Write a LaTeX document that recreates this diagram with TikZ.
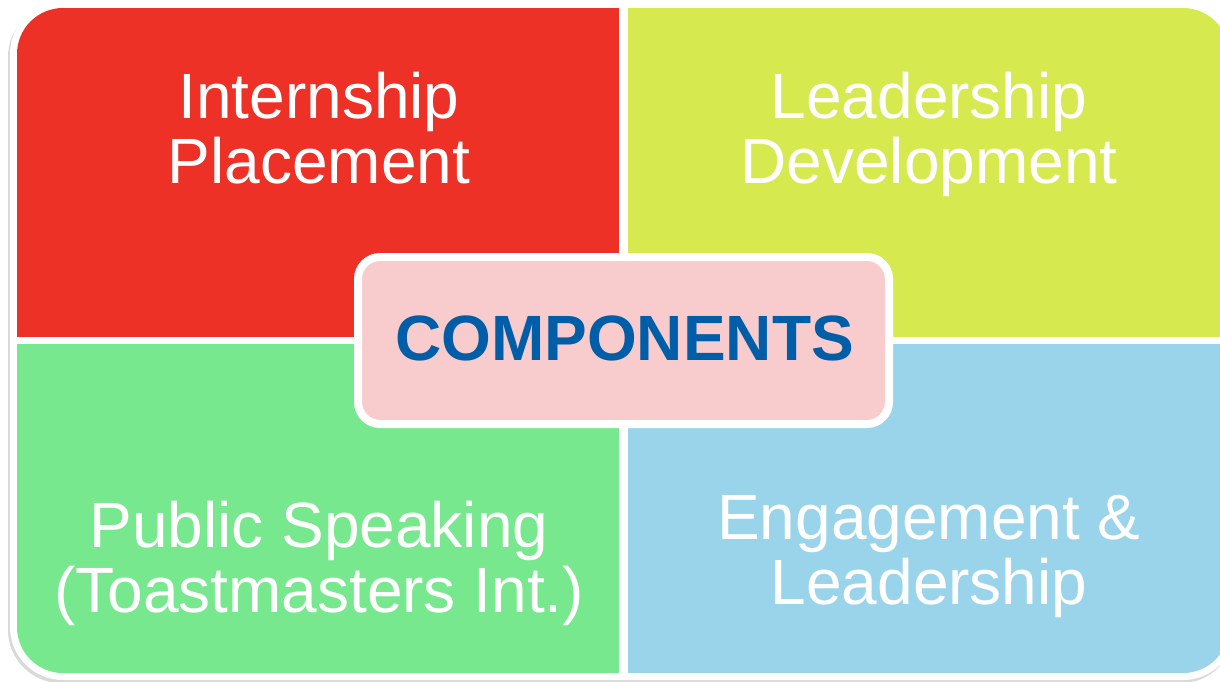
\documentclass[tikz,border=0pt]{standalone}
\usepackage{fontspec}
\setmainfont{Liberation Sans}
\usetikzlibrary{shadows}
\definecolor{qred}{HTML}{EE3126}
\definecolor{qyellow}{HTML}{D6EA50}
\definecolor{qgreen}{HTML}{78E88E}
\definecolor{qblue}{HTML}{99D4EA}
\definecolor{qpink}{HTML}{F8CCCC}
\definecolor{qtitle}{HTML}{005EA8}
\tikzset{
  qtext/.style={text=white, align=center, inner sep=0pt, anchor=base,
    font=\fontsize{64}{65}\selectfont},
  centerbox/.style={fill=qpink, draw=white, line width=8pt, rounded corners=22pt,
    minimum width=531pt, minimum height=167pt, inner sep=0pt,
    drop shadow={shadow xshift=1pt, shadow yshift=-3pt, opacity=0.35, fill=black!70}},
  titletext/.style={text=qtitle, font=\bfseries\fontsize{64}{70}\selectfont}
}
\begin{document}
\begin{tikzpicture}[x=1pt, y=-1pt]
\useasboundingbox (0,0) rectangle (1220,681);
% outer white frame
\fill[white, rounded corners=53pt,
  drop shadow={shadow xshift=-2pt, shadow yshift=-3pt, opacity=0.15, fill=black}]
  (10,1) rectangle (1236,680);
\begin{scope}
  \clip[rounded corners=46pt] (17,8) rectangle (1229,673);
  \fill[qred]    (17,8)    rectangle (619,337);
  \fill[qyellow] (628,8)   rectangle (1229,337);
  \fill[qgreen]  (17,344)  rectangle (619,673);
  \fill[qblue]   (628,344) rectangle (1229,673);
\end{scope}
\node[qtext] (tl) at (319,183) {Internship\\Placement};
\node[qtext] (tr) at (929,183) {Leadership\\Development};
\node[qtext] (bl) at (319,612) {Public Speaking\\(Toastmasters Int.)};
\node[qtext] (br) at (929,604) {Engagement \&\\Leadership};
\node[centerbox] (c) at (623.5,340.5) {};
\node[titletext, anchor=base] (ct) at (624.5,360) {COMPONENTS};
\end{tikzpicture}
\end{document}
